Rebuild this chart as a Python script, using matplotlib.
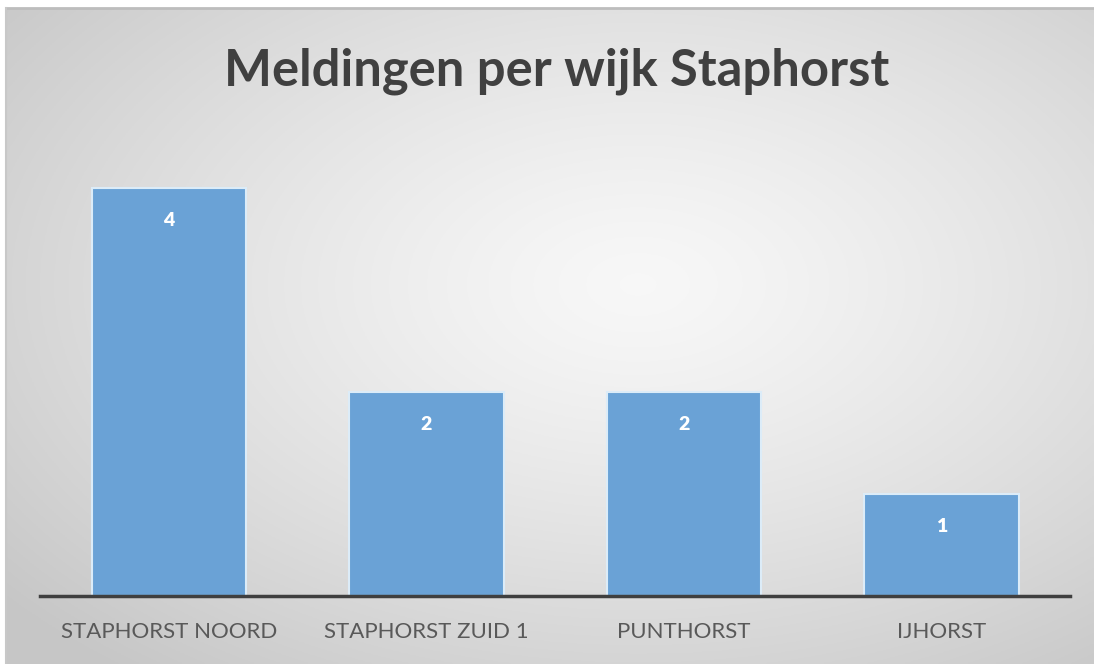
import numpy as np
import matplotlib
matplotlib.use("Agg")
import matplotlib.pyplot as plt

categories = ["STAPHORST NOORD", "STAPHORST ZUID 1", "PUNTHORST", "IJHORST"]
values = [4, 2, 2, 1]
title = "Meldingen per wijk Staphorst"

W, H = 1094, 664
fig = plt.figure(figsize=(W / 100, H / 100), dpi=100)
fig.patch.set_facecolor("white")

# background radial gradient (chart area)
bx0, by0 = 6, 8
bg = fig.add_axes([bx0 / W, 0, 1 - bx0 / W, 1 - by0 / H])
ny, nx = 300, 500
yy, xx = np.mgrid[0:ny, 0:nx]
cx, cy = 0.58 * nx, 0.42 * ny
d = np.sqrt(((xx - cx) / (0.75 * nx)) ** 2 + ((yy - cy) / (0.75 * ny)) ** 2)
d = np.clip(d, 0, 1)
lum = 0.97 - 0.19 * d ** 1.3
img = np.dstack([lum, lum, lum])
bg.imshow(img, aspect="auto", extent=[0, 1, 0, 1], origin="upper")
bg.set_xlim(0, 1)
bg.set_ylim(0, 1)
bg.axis("off")
bg.plot([0, 1], [1, 1], color="#bdbdbd", lw=2, transform=bg.transAxes, clip_on=False)
bg.plot([0, 0], [0, 1], color="#c8c8c8", lw=1.5, transform=bg.transAxes, clip_on=False)

# main axes
ax_l, ax_r = 40, 1070
ax_b, ax_t = 596, 188
ax = fig.add_axes([ax_l / W, 1 - ax_b / H, (ax_r - ax_l) / W, (ax_b - ax_t) / H])
ax.patch.set_alpha(0)
x = np.arange(len(categories))
bars = ax.bar(x, values, width=0.6, color="#6aa2d6", edgecolor="#dcecf8", linewidth=1.5, clip_on=False, zorder=2)
ax.set_xlim(-0.5, len(categories) - 0.5)
ax.set_ylim(0, max(values))
for s in ["top", "right", "left"]:
    ax.spines[s].set_visible(False)
ax.spines["bottom"].set_color("#3f3f3f")
ax.spines["bottom"].set_linewidth(2.5)
ax.spines["bottom"].set_zorder(3)
ax.set_yticks([])
ax.set_xticks(x)
ax.set_xticklabels(categories, fontfamily="Lato", fontsize=16, color="#595959")
ax.tick_params(axis="x", length=0, pad=19)

for xi, v in zip(x, values):
    ax.annotate(str(v), (xi, v), xytext=(0, -33), textcoords="offset pixels",
                ha="center", va="center", fontfamily="Lato", fontweight="heavy",
                fontsize=14, color="white")

fig.text(557 / W, 1 - 71 / H, title, ha="center", va="center",
         fontfamily="Lato", fontweight="bold", fontsize=36.5, color="#404040")

fig.savefig("out.png", dpi=100)
